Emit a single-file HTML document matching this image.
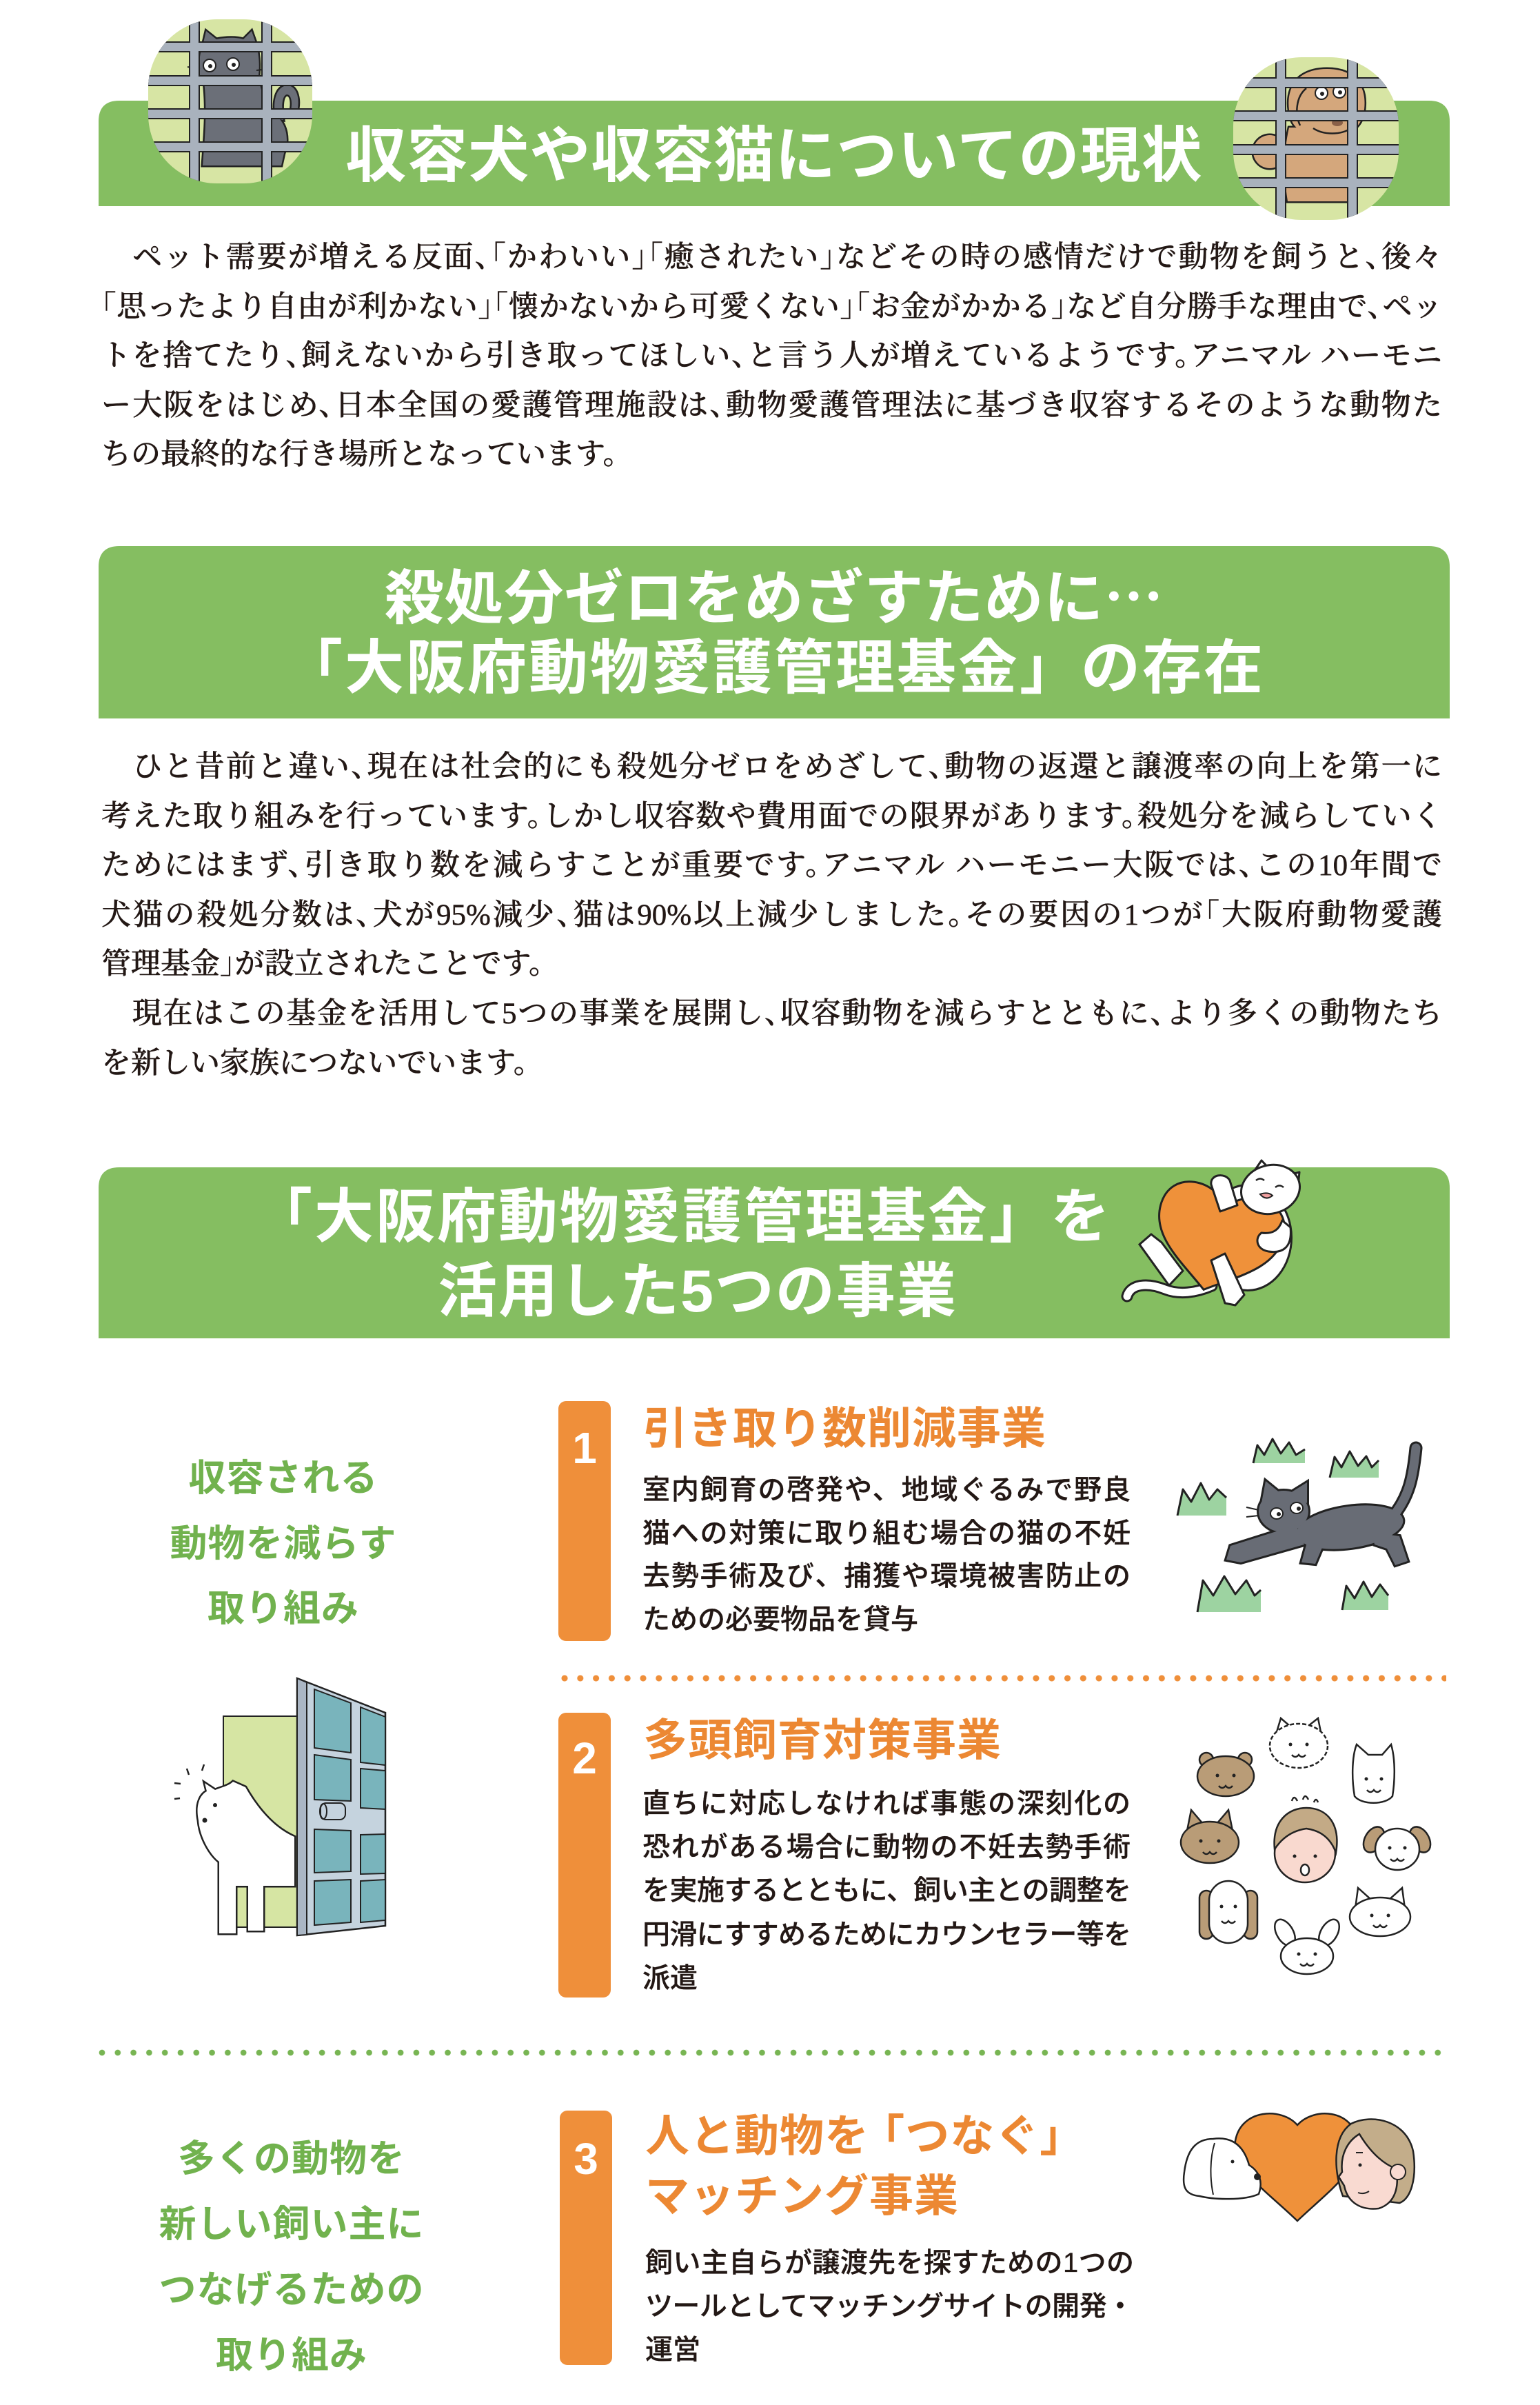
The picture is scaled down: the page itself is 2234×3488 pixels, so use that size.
<!DOCTYPE html>
<html lang="ja"><head><meta charset="utf-8">
<style>
html,body{margin:0;padding:0;background:#fff;}
body{width:2234px;height:3488px;position:relative;overflow:hidden;text-spacing-trim:space-all;text-autospace:no-autospace;}
svg{position:absolute;left:0;top:0;}
.a{position:absolute;white-space:nowrap;}
.h{font-family:"Liberation Sans","Noto Sans CJK JP",sans-serif;font-weight:700;color:#fff;text-align:center;line-height:100px;}
.p{position:absolute;left:147px;width:1945px;font-family:"Liberation Serif","Noto Serif CJK SC",serif;font-size:43px;font-weight:500;line-height:71.6px;color:#231815;-webkit-text-stroke:0.5px #231815;}
.p div{text-align:justify;text-align-last:justify;white-space:normal;}
.p div.e{text-align-last:left;}
.o{margin-left:-0.5em;}
.c{margin-right:-0.5em;}
.g{font-family:"Liberation Sans","Noto Sans CJK JP",sans-serif;font-weight:700;color:#71b24e;font-size:54px;line-height:94.5px;text-align:center;letter-spacing:1px;}
.t{font-family:"Liberation Sans","Noto Sans CJK JP",sans-serif;font-weight:700;color:#ec8833;font-size:64px;line-height:87px;letter-spacing:1px;}
.b{position:absolute;width:708px;font-family:"Liberation Sans","Noto Sans CJK JP",sans-serif;font-size:40px;font-weight:500;line-height:63px;color:#231815;-webkit-text-stroke:0.3px #231815;}
.b div{text-align:justify;text-align-last:justify;white-space:normal;}
.b div.e{text-align-last:left;}
.b div.s{letter-spacing:-1px;}
.n{font-family:"Liberation Sans","Noto Sans CJK JP",sans-serif;font-weight:700;color:#fff;font-size:64px;line-height:80px;text-align:center;width:76px;left:810px;}
.dot{position:absolute;height:10px;background-repeat:repeat-x;background-size:22.8px 10px;}
</style></head>
<body>
<svg width="2234" height="3488" viewBox="0 0 2234 3488">
<defs>
<clipPath id="cc1"><rect x="215" y="28" width="238" height="238" rx="100"/></clipPath>
<clipPath id="cc2"><rect x="1789" y="83" width="240" height="236" rx="100"/></clipPath>
<g id="bars1">
<rect x="276" y="20" width="12" height="260"/><rect x="381" y="20" width="12" height="260"/>
<rect x="200" y="62" width="270" height="12"/><rect x="200" y="111" width="270" height="12"/>
<rect x="200" y="159" width="270" height="12"/><rect x="200" y="207" width="270" height="12"/>
</g>
<g id="bars2">
<rect x="1852" y="70" width="12" height="260"/><rect x="1956" y="70" width="12" height="260"/>
<rect x="1770" y="114" width="280" height="12"/><rect x="1770" y="162" width="280" height="12"/>
<rect x="1770" y="211" width="280" height="12"/><rect x="1770" y="259" width="280" height="12"/>
</g>
<g id="cat1">
<path d="M291,122 C287,100 289,78 295,62 L299,45 L314,57 C328,54 344,54 353,57 L365,45 L371,62 C377,82 377,104 373,122 Z"/>
<path d="M296,118 L376,118 C381,140 386,158 400,168 C416,178 420,205 412,222 L408,240 L294,240 C297,200 301,160 296,118 Z"/>
<path d="M400,172 C395,148 400,126 416,124 C432,124 436,146 430,166 L421,164 C425,150 423,137 416,137 C409,139 408,154 411,174 Z"/>
</g>
<g id="dog1">
<path d="M1872,170 C1862,130 1880,100 1925,100 C1968,100 1985,128 1978,165 C1972,190 1950,198 1925,198 C1900,198 1878,192 1872,170 Z"/>
<path d="M1870,185 C1862,220 1862,255 1868,292 L1962,292 C1966,255 1965,220 1958,185 Z"/>
<circle cx="1842" cy="220" r="24"/>
</g>
<g id="wcat">
<ellipse cx="1810" cy="1795" rx="62" ry="75"/>
<path d="M1655,1805 L1670,1792 L1684,1803 L1714,1843 L1696,1862 Z"/>
</g>
<g id="gcat">
<ellipse cx="1862" cy="2192" rx="36" ry="30"/>
<polygon points="1830,2180 1836,2148 1858,2166"/>
<polygon points="1872,2165 1896,2150 1896,2180"/>
<ellipse cx="1958" cy="2215" rx="78" ry="30" transform="rotate(-8 1958 2215)"/>
<polygon points="1880,2212 1785,2242 1779,2262 1800,2266 1892,2240"/>
<polygon points="1990,2222 2030,2228 2042,2264 2024,2270 2012,2246 1994,2240"/>
<polygon points="1900,2222 1925,2228 1908,2268 1888,2266"/>
</g>
<g id="ddog">
<path d="M288,2640 C283,2615 292,2602 300,2598 L297,2586 L312,2596 C322,2592 332,2590 338,2584 L356,2592 C372,2620 395,2650 427,2664 L427,2735 L382,2735 L382,2800 L360,2800 L360,2735 L342,2735 L342,2804 L318,2804 L318,2700 C305,2690 290,2665 288,2640 Z"/>
</g>
</defs>

<path d="M143,299 V176 Q143,146 173,146 H2073 Q2103,146 2103,176 V299 Z" fill="#85be61"/>
<path d="M143,1042 V822 Q143,792 173,792 H2073 Q2103,792 2103,822 V1042 Z" fill="#85be61"/>
<path d="M143,1941 V1723 Q143,1693 173,1693 H2073 Q2103,1693 2103,1723 V1941 Z" fill="#85be61"/>

<rect x="215" y="28" width="238" height="238" rx="100" fill="#d7e5a4"/>
<g clip-path="url(#cc1)">
<use href="#cat1" fill="#222" stroke="#222" stroke-width="5"/>
<use href="#cat1" fill="#6b6f78"/>
<line x1="290" y1="100" x2="272" y2="97" stroke="#222" stroke-width="2"/>
<line x1="372" y1="102" x2="390" y2="100" stroke="#222" stroke-width="2"/>
<circle cx="304" cy="95" r="9" fill="#fff" stroke="#222" stroke-width="2"/><circle cx="305" cy="96" r="3" fill="#222"/>
<circle cx="338" cy="93" r="9" fill="#fff" stroke="#222" stroke-width="2"/><circle cx="339" cy="94" r="3" fill="#222"/>
<use href="#bars1" fill="#222" stroke="#222" stroke-width="4"/>
<use href="#bars1" fill="#a9b2bd"/>
</g>

<rect x="1789" y="83" width="240" height="236" rx="100" fill="#d7e5a4"/>
<g clip-path="url(#cc2)">
<use href="#dog1" fill="#222" stroke="#222" stroke-width="5"/>
<use href="#dog1" fill="#d4a77c"/>
<path d="M1895,128 C1880,140 1878,165 1886,182" fill="none" stroke="#222" stroke-width="2.5"/>
<path d="M1905,186 C1920,196 1945,196 1960,186" fill="none" stroke="#222" stroke-width="2.5"/>
<ellipse cx="1940" cy="178" rx="8" ry="5" fill="#8a6048"/>
<circle cx="1917" cy="135" r="9" fill="#fff" stroke="#222" stroke-width="2"/><circle cx="1918" cy="136" r="3" fill="#222"/>
<circle cx="1943" cy="133" r="9" fill="#fff" stroke="#222" stroke-width="2"/><circle cx="1944" cy="134" r="3" fill="#222"/>
<use href="#bars2" fill="#222" stroke="#222" stroke-width="4"/>
<use href="#bars2" fill="#a9b2bd"/>
</g>

<path d="M1635,1880 C1640,1862 1665,1860 1690,1870 C1710,1878 1735,1875 1758,1865" fill="none" stroke="#222" stroke-width="17" stroke-linecap="round"/>
<use href="#wcat" fill="#222" stroke="#222" stroke-width="6"/>
<use href="#wcat" fill="#fff"/>
<path d="M1635,1880 C1640,1862 1665,1860 1690,1870 C1710,1878 1735,1875 1758,1865" fill="none" stroke="#fff" stroke-width="11" stroke-linecap="round"/>
<path d="M0,-45 C-20,-82 -92,-82 -92,-25 C-92,22 -40,47 0,77 C40,47 92,22 92,-25 C92,-82 20,-82 0,-45 Z" transform="translate(1766,1796) rotate(15)" fill="#ef913a" stroke="#222" stroke-width="3"/>
<g fill="#fff" stroke="#222" stroke-width="3" stroke-linejoin="round">
<path d="M1770,1757 L1757,1718 C1755,1703 1777,1700 1784,1712 L1795,1748 Z"/>
<path d="M1757,1828 L1777,1818 L1805,1878 L1792,1893 L1777,1890 Z"/>
<path d="M1872,1780 C1875,1810 1860,1818 1840,1815 C1822,1812 1820,1795 1830,1788 C1845,1790 1855,1785 1860,1770 Z"/>
<polygon points="1808,1715 1830,1683 1846,1700"/>
<polygon points="1862,1706 1885,1700 1882,1730"/>
<ellipse cx="1843" cy="1725" rx="43" ry="35" transform="rotate(-15 1843 1725)"/>
</g>
<path d="M1822,1712 q6,-5 12,0 M1850,1722 q6,-5 12,0" fill="none" stroke="#222" stroke-width="2.5"/>
<path d="M1828,1732 q8,10 18,2 q-6,-6 -18,-2 Z" fill="#f2a0a0" stroke="#222" stroke-width="2"/>

<rect x="810" y="2032" width="76" height="348" rx="11" fill="#ef8f3a"/>
<rect x="810" y="2484" width="76" height="413" rx="11" fill="#ef8f3a"/>
<rect x="812" y="3061" width="76" height="369" rx="11" fill="#ef8f3a"/>

<g fill="#9dd3a1" stroke="none">
<path d="M1818,2122 L1824,2096 L1834,2110 L1846,2087 L1858,2108 L1870,2092 L1880,2110 L1893,2102 L1893,2122 Z"/>
<path d="M1929,2143 L1936,2113 L1946,2128 L1958,2105 L1970,2126 L1982,2112 L1990,2128 L2000,2118 L2000,2143 Z"/>
<path d="M1708,2198 L1716,2160 L1728,2178 L1742,2151 L1754,2175 L1766,2160 L1779,2172 L1779,2198 Z"/>
<path d="M1737,2338 L1745,2292 L1760,2314 L1776,2286 L1792,2312 L1808,2292 L1820,2314 L1829,2306 L1829,2338 Z"/>
<path d="M1947,2335 L1953,2300 L1965,2318 L1978,2294 L1990,2316 L2002,2298 L2014,2314 L2014,2335 Z"/>
</g>
<g fill="none" stroke="#222" stroke-width="3" stroke-linejoin="round">
<path d="M1818,2122 L1824,2096 L1834,2110 L1846,2087 L1858,2108 L1870,2092 L1880,2110 L1893,2102"/>
<path d="M1929,2143 L1936,2113 L1946,2128 L1958,2105 L1970,2126 L1982,2112 L1990,2128 L2000,2118"/>
<path d="M1708,2198 L1716,2160 L1728,2178 L1742,2151 L1754,2175 L1766,2160 L1779,2172"/>
<path d="M1737,2338 L1745,2292 L1760,2314 L1776,2286 L1792,2312 L1808,2292 L1820,2314 L1829,2306"/>
<path d="M1947,2335 L1953,2300 L1965,2318 L1978,2294 L1990,2316 L2002,2298 L2014,2314"/>
</g>
<path d="M2020,2200 C2045,2170 2050,2140 2054,2100" fill="none" stroke="#222" stroke-width="19" stroke-linecap="round"/>
<use href="#gcat" fill="#222" stroke="#222" stroke-width="6"/>
<use href="#gcat" fill="#686c75"/>
<path d="M2020,2200 C2045,2170 2050,2140 2054,2100" fill="none" stroke="#686c75" stroke-width="13" stroke-linecap="round"/>
<ellipse cx="1852" cy="2195" rx="9" ry="8" fill="#fff" stroke="#222" stroke-width="2"/><circle cx="1855" cy="2196" r="3" fill="#222"/>
<ellipse cx="1881" cy="2187" rx="9" ry="8" fill="#fff" stroke="#222" stroke-width="2"/><circle cx="1884" cy="2188" r="3" fill="#222"/>
<path d="M1826,2190 l-18,-4 M1826,2198 l-18,2" stroke="#222" stroke-width="2"/>

<rect x="324" y="2489" width="107" height="306" fill="#d6e5a3" stroke="#222" stroke-width="2"/>
<use href="#ddog" fill="#222" stroke="#222" stroke-width="5"/>
<use href="#ddog" fill="#fff"/>
<circle cx="312" cy="2618" r="3" fill="#222"/><circle cx="297" cy="2640" r="3.5" fill="#222"/>
<path d="M271,2565 l3,9 M296,2559 l-3,9 M253,2586 l9,1 M253,2609 l8,-1" stroke="#222" stroke-width="2.5"/>
<polygon points="431,2434 559,2484 559,2793 431,2807" fill="#c5d3de" stroke="#222" stroke-width="2.5"/>
<polygon points="431,2434 445,2440 445,2806 431,2807" fill="#aab6c4" stroke="#222" stroke-width="2"/>
<g fill="#79b4bc" stroke="#222" stroke-width="2">
<polygon points="456,2450 509,2470 509,2542 456,2535"/>
<polygon points="456,2545 509,2552 509,2612 456,2610"/>
<polygon points="456,2653 509,2655 509,2714 456,2716"/>
<polygon points="456,2728 509,2726 509,2788 456,2792"/>
<polygon points="523,2476 559,2490 559,2560 523,2556"/>
<polygon points="523,2565 559,2568 559,2624 523,2622"/>
<polygon points="523,2661 559,2660 559,2717 523,2718"/>
<polygon points="523,2728 559,2726 559,2785 523,2788"/>
</g>
<rect x="465" y="2615" width="36" height="24" rx="8" fill="#c5d3de" stroke="#222" stroke-width="2"/>
<ellipse cx="469" cy="2627" rx="5" ry="11" fill="none" stroke="#222" stroke-width="2"/>

<g stroke="#222" stroke-width="2.5">
<circle cx="1750" cy="2552" r="10" fill="#b99c77"/><circle cx="1806" cy="2552" r="10" fill="#b99c77"/>
<ellipse cx="1778" cy="2576" rx="41" ry="29" fill="#b99c77"/>
<polygon points="1852,2512 1858,2492 1872,2504" fill="#fff"/><polygon points="1898,2503 1912,2492 1916,2512" fill="#fff"/>
<ellipse cx="1884" cy="2532" rx="42" ry="32" fill="#fff" stroke-dasharray="6 3"/>
<path d="M1965,2605 C1960,2575 1962,2545 1968,2530 L1985,2545 L2005,2545 L2018,2530 C2024,2550 2024,2580 2020,2605 C2010,2618 1975,2618 1965,2605 Z" fill="#fff"/>
<polygon points="1722,2655 1728,2625 1745,2645" fill="#b99c77"/><polygon points="1765,2645 1782,2625 1788,2655" fill="#b99c77"/>
<ellipse cx="1755" cy="2672" rx="42" ry="30" fill="#b99c77"/>
<ellipse cx="1893" cy="2688" rx="44" ry="42" fill="#f9d9cf"/>
<path d="M1849,2682 C1845,2640 1870,2622 1895,2622 C1925,2622 1945,2645 1938,2687 C1930,2665 1915,2655 1895,2652 C1875,2655 1860,2665 1849,2682 Z" fill="#c3aa86"/>
<ellipse cx="1893" cy="2712" rx="6" ry="8" fill="#fff"/>
<ellipse cx="1993" cy="2668" rx="13" ry="20" fill="#b99c77" transform="rotate(30 1993 2668)"/>
<ellipse cx="2060" cy="2668" rx="13" ry="20" fill="#b99c77" transform="rotate(-30 2060 2668)"/>
<ellipse cx="2027" cy="2682" rx="32" ry="30" fill="#fff"/>
<rect x="1740" y="2742" width="20" height="70" rx="10" fill="#b99c77"/>
<rect x="1804" y="2742" width="20" height="70" rx="10" fill="#b99c77"/>
<rect x="1754" y="2728" width="56" height="90" rx="28" fill="#fff"/>
<ellipse cx="1864" cy="2803" rx="12" ry="21" fill="#fff" transform="rotate(-30 1864 2803)"/>
<ellipse cx="1928" cy="2803" rx="12" ry="21" fill="#fff" transform="rotate(30 1928 2803)"/>
<ellipse cx="1896" cy="2837" rx="38" ry="26" fill="#fff"/>
<polygon points="1966,2768 1970,2738 1990,2756" fill="#fff"/><polygon points="2014,2756 2034,2738 2038,2768" fill="#fff"/>
<ellipse cx="2002" cy="2780" rx="44" ry="28" fill="#fff"/>
</g>
<g fill="#222">
<circle cx="1766" cy="2575" r="2.5"/><circle cx="1790" cy="2575" r="2.5"/>
<circle cx="1872" cy="2530" r="2.5"/><circle cx="1896" cy="2530" r="2.5"/>
<circle cx="1982" cy="2580" r="2.5"/><circle cx="2004" cy="2580" r="2.5"/>
<circle cx="1742" cy="2670" r="2.5"/><circle cx="1768" cy="2670" r="2.5"/>
<circle cx="1878" cy="2692" r="2.5"/><circle cx="1908" cy="2692" r="2.5"/>
<circle cx="2016" cy="2680" r="2.5"/><circle cx="2038" cy="2680" r="2.5"/>
<circle cx="1772" cy="2765" r="2.5"/><circle cx="1792" cy="2765" r="2.5"/>
<circle cx="1884" cy="2834" r="2.5"/><circle cx="1908" cy="2834" r="2.5"/>
<circle cx="1990" cy="2778" r="2.5"/><circle cx="2014" cy="2778" r="2.5"/>
</g>
<g fill="none" stroke="#222" stroke-width="2.5">
<path d="M1768,2590 q5,6 10,0 q5,6 10,0"/>
<path d="M1874,2545 q5,6 10,0 q5,6 10,0"/>
<path d="M1983,2596 q5,6 10,0 q5,6 10,0"/>
<path d="M1745,2686 q5,6 10,0 q5,6 10,0"/>
<path d="M2017,2696 q5,6 10,0 q5,6 10,0"/>
<path d="M1772,2786 q5,6 10,0 q5,6 10,0"/>
<path d="M1886,2848 q5,6 10,0 q5,6 10,0"/>
<path d="M1992,2792 q5,6 10,0 q5,6 10,0"/>
<path d="M1874,2612 q3,-10 8,0 M1890,2610 q3,-10 8,0 M1906,2614 q3,-8 6,0"/>
</g>

<path d="M1882,3082 C1860,3056 1800,3058 1792,3105 C1786,3145 1840,3180 1882,3221 C1925,3180 1975,3145 1970,3105 C1962,3058 1905,3056 1882,3082 Z" fill="#ef913a" stroke="#222" stroke-width="2.5"/>
<path d="M1760,3102 C1790,3098 1805,3115 1812,3140 C1828,3150 1832,3165 1826,3182 C1805,3192 1760,3190 1740,3185 C1718,3183 1715,3170 1718,3150 C1722,3118 1735,3102 1760,3102 Z" fill="#fff" stroke="#222" stroke-width="2.5"/>
<path d="M1762,3108 C1755,3130 1755,3160 1760,3183" fill="none" stroke="#222" stroke-width="2"/>
<circle cx="1824" cy="3157" r="5" fill="#222"/><circle cx="1788" cy="3135" r="2.5" fill="#222"/>
<path d="M1948,3185 C1935,3150 1932,3100 1960,3080 C1990,3065 2040,3075 2050,3120 C2056,3160 2046,3190 2030,3195 Z" fill="#c3ad8a" stroke="#222" stroke-width="2.5"/>
<path d="M1972,3095 C1990,3125 2010,3140 2025,3145 C2030,3170 2025,3195 2000,3203 C1975,3206 1955,3195 1950,3170 L1942,3157 L1947,3150 C1944,3125 1955,3105 1972,3095 Z" fill="#f9dad1" stroke="#222" stroke-width="2.5"/>
<circle cx="2028" cy="3150" r="11" fill="#f9dad1" stroke="#222" stroke-width="2"/>
<circle cx="1973" cy="3140" r="2.5" fill="#222"/>
<path d="M1967,3122 h10 M1970,3180 q8,3 16,-2" fill="none" stroke="#222" stroke-width="2"/>
</svg>

<div class="dot" style="left:814px;top:2429px;width:1284px;background-image:radial-gradient(circle at 5px 5px,#ef8f3a 4.2px,rgba(239,143,58,0) 4.8px);"></div>
<div class="dot" style="left:143px;top:2972px;width:1960px;background-image:radial-gradient(circle at 5px 5px,#78b553 4px,rgba(120,181,83,0) 4.6px);"></div>

<div class="a h" style="left:143px;top:176px;width:1960px;font-size:88px;letter-spacing:1px;">収容犬や収容猫についての現状</div>
<div class="a h" style="left:143px;top:810px;width:1960px;font-size:86px;letter-spacing:1px;">殺処分ゼロをめざすために<span style="font-family:'Noto Sans CJK JP',sans-serif;">…</span></div>
<div class="a h" style="left:143px;top:919px;width:1960px;font-size:86px;letter-spacing:3px;">「大阪府動物愛護管理基金」の存在</div>
<div class="a h" style="left:0px;top:1715px;width:1980px;font-size:86px;letter-spacing:3px;">「大阪府動物愛護管理基金」を</div>
<div class="a h" style="left:0px;top:1823px;width:2024px;font-size:86px;letter-spacing:2px;">活用した5つの事業</div>

<div class="p" style="top:338px;">
<div>　ペット需要が増える反面<span class="c">、</span><span class="o">「</span>かわいい<span class="c">」</span><span class="o">「</span>癒されたい<span class="c">」</span>などその時の感情だけで動物を飼うと<span class="c">、</span>後々</div>
<div><span class="o">「</span>思ったより自由が利かない<span class="c">」</span><span class="o">「</span>懐かないから可愛くない<span class="c">」</span><span class="o">「</span>お金がかかる<span class="c">」</span>など自分勝手な理由で<span class="c">、</span>ペッ</div>
<div>トを捨てたり<span class="c">、</span>飼えないから引き取ってほしい<span class="c">、</span>と言う人が増えているようです<span class="c">。</span>アニマル ハーモニ</div>
<div>ー大阪をはじめ<span class="c">、</span>日本全国の愛護管理施設は<span class="c">、</span>動物愛護管理法に基づき収容するそのような動物た</div>
<div class="e">ちの最終的な行き場所となっています。</div>
</div>

<div class="p" style="top:1077px;">
<div>　ひと昔前と違い<span class="c">、</span>現在は社会的にも殺処分ゼロをめざして<span class="c">、</span>動物の返還と譲渡率の向上を第一に</div>
<div>考えた取り組みを行っています<span class="c">。</span>しかし収容数や費用面での限界があります<span class="c">。</span>殺処分を減らしていく</div>
<div>ためにはまず<span class="c">、</span>引き取り数を減らすことが重要です<span class="c">。</span>アニマル ハーモニー大阪では<span class="c">、</span>この10年間で</div>
<div>犬猫の殺処分数は<span class="c">、</span>犬が95%減少<span class="c">、</span>猫は90%以上減少しました<span class="c">。</span>その要因の1つが<span class="o">「</span>大阪府動物愛護</div>
<div class="e">管理基金<span class="c">」</span>が設立されたことです。</div>
<div>　現在はこの基金を活用して5つの事業を展開し<span class="c">、</span>収容動物を減らすとともに<span class="c">、</span>より多くの動物たち</div>
<div class="e">を新しい家族につないでいます。</div>
</div>

<div class="a g" style="left:0;top:2097px;width:822px;">収容される<br>動物を減らす<br>取り組み</div>
<div class="a g" style="left:0;top:3084px;width:846px;line-height:95px;">多くの動物を<br>新しい飼い主に<br>つなげるための<br>取り組み</div>

<div class="a n" style="top:2060px;">1</div>
<div class="a n" style="top:2510px;">2</div>
<div class="a n" style="left:812px;top:3091px;">3</div>

<div class="a t" style="left:933px;top:2029px;">引き取り数削減事業</div>
<div class="a t" style="left:933px;top:2481px;">多頭飼育対策事業</div>
<div class="a t" style="left:936px;top:3055px;">人と動物を<span style="margin-left:-0.2em;">「</span>つなぐ<span style="margin-right:-0.2em;">」</span><br>マッチング事業</div>

<div class="b" style="left:932px;top:2130px;line-height:62.7px;">
<div>室内飼育の啓発や、地域ぐるみで野良</div>
<div>猫への対策に取り組む場合の猫の不妊</div>
<div>去勢手術及び、捕獲や環境被害防止の</div>
<div class="e">ための必要物品を貸与</div>
</div>
<div class="b" style="left:932px;top:2585px;line-height:63.2px;">
<div>直ちに対応しなければ事態の深刻化の</div>
<div>恐れがある場合に動物の不妊去勢手術</div>
<div class="s">を実施するとともに、飼い主との調整を</div>
<div class="s">円滑にすすめるためにカウンセラー等を</div>
<div class="e">派遣</div>
</div>
<div class="b" style="left:936px;top:3251px;">
<div class="s">飼い主自らが譲渡先を探すための1つの</div>
<div class="s">ツールとしてマッチングサイトの開発・</div>
<div class="e">運営</div>
</div>
</body></html>
